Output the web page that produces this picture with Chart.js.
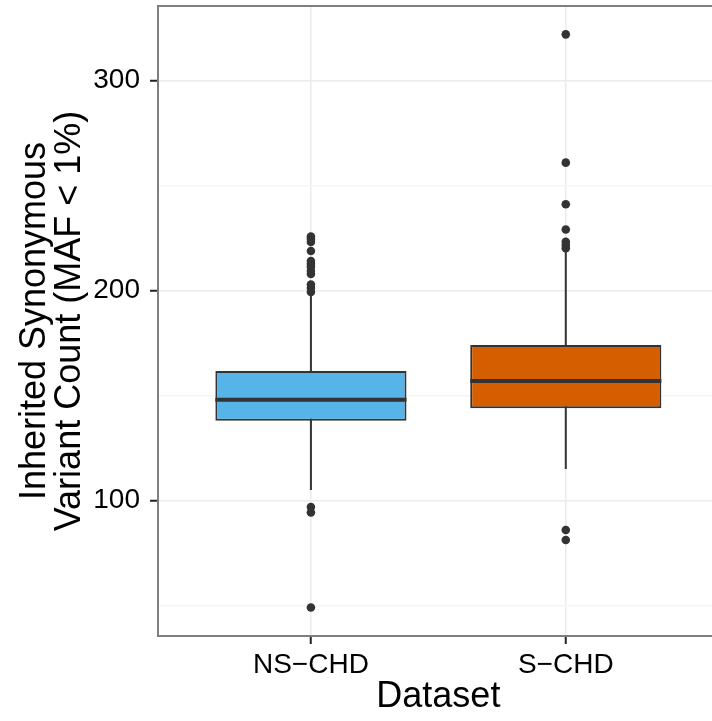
<!DOCTYPE html>
<html>
<head>
<meta charset="utf-8">
<script src="https://cdn.jsdelivr.net/npm/chart.js@4.4.1/dist/chart.umd.min.js"></script>
<style>
  html, body { margin: 0; padding: 0; background: #ffffff; overflow: hidden; }
  #wrap { width: 723px; height: 721px; }
</style>
</head>
<body>
<div id="wrap"><canvas id="c" width="723" height="721"></canvas></div>
<script>
// ---- data ----
const categories = ['NS\u2212CHD', 'S\u2212CHD'];
const lowerWhisker = [104.9, 114.9];
const q1 = [137.9, 143.8];
const median = [147.9, 156.8];
const q3 = [161.6, 174.0];
const upperWhisker = [197.3, 218.5];
const outliersNS = [49.0, 94.2, 96.8, 199.2, 201.1, 202.8, 207.8, 209.2, 211.2, 212.6, 214.0, 218.7, 223.0, 224.4, 225.6];
const outliersS = [81.1, 85.9, 220.1, 221.6, 223.1, 229.0, 241.0, 260.8, 321.9];
const yMajorTicks = [100, 200, 300];
const yGridValues = [50, 100, 150, 200, 250, 300];
const boxColors = ['#56B4E9', '#D55E00'];

const FONT = '"Liberation Sans", Arial, Helvetica, sans-serif';
const DARK = '#333333';

const outlierPoints = [];
outliersNS.forEach(v => outlierPoints.push({ x: 1, y: v }));
outliersS.forEach(v => outlierPoints.push({ x: 2, y: v }));

const whiskerDatasets = categories.map((c, i) => ({
  type: 'line',
  data: [{ x: i + 1, y: lowerWhisker[i] }, { x: i + 1, y: upperWhisker[i] }],
  borderColor: DARK,
  borderWidth: 2,
  pointRadius: 0,
  fill: false,
  order: 3
}));

const medianPlugin = {
  id: 'medianLines',
  afterDatasetsDraw(chart) {
    const meta = chart.getDatasetMeta(0);
    const ys = chart.scales.y;
    const ctx = chart.ctx;
    ctx.save();
    ctx.strokeStyle = DARK;
    ctx.lineWidth = 4;
    meta.data.forEach((bar, i) => {
      const y = ys.getPixelForValue(median[i]);
      ctx.beginPath();
      ctx.moveTo(bar.x - bar.width / 2, y);
      ctx.lineTo(bar.x + bar.width / 2, y);
      ctx.stroke();
    });
    ctx.restore();
  }
};

const borderPlugin = {
  id: 'panelBorder',
  afterDraw(chart) {
    const a = chart.chartArea;
    const ctx = chart.ctx;
    ctx.save();
    ctx.strokeStyle = '#7F7F7F';
    ctx.lineWidth = 2;
    ctx.strokeRect(a.left, a.top, a.right - a.left, a.bottom - a.top);
    ctx.restore();
  }
};

new Chart(document.getElementById('c'), {
  type: 'bar',
  data: {
    datasets: [
      {
        type: 'bar',
        data: categories.map((c, i) => ({ x: i + 1, y: [q1[i], q3[i]] })),
        backgroundColor: boxColors,
        borderColor: DARK,
        borderWidth: 2,
        borderSkipped: false,
        barPercentage: 0.75,
        categoryPercentage: 1.0,
        order: 2
      },
      ...whiskerDatasets,
      {
        type: 'scatter',
        data: outlierPoints,
        backgroundColor: DARK,
        borderColor: DARK,
        borderWidth: 0,
        pointRadius: 4.3,
        order: 1
      }
    ]
  },
  options: {
    responsive: false,
    animation: false,
    events: [],
    layout: { padding: { top: 6, left: 0, right: 0, bottom: 0 } },
    plugins: { legend: { display: false }, tooltip: { enabled: false } },
    scales: {
      x: {
        type: 'linear',
        offset: false,
        min: 0.4,
        max: 2.6,
        afterBuildTicks(scale) { scale.ticks = categories.map((c, i) => ({ value: i + 1 })); },
        afterFit(scale) { scale.height = 85; scale.paddingLeft = 0; scale.paddingRight = 0; },
        border: { display: false },
        grid: { offset: false, color: '#EBEBEB', lineWidth: 1.5, tickColor: '#222222', tickLength: 8, tickWidth: 2 },
        ticks: {
          autoSkip: false,
          maxRotation: 0,
          padding: 7,
          color: '#000000',
          font: { family: FONT, size: 28, lineHeight: 1.0 },
          callback: (v) => categories[Math.round(v) - 1] || ''
        },
        title: {
          display: true,
          text: 'Dataset',
          color: '#000000',
          font: { family: FONT, size: 36, lineHeight: 1.0 },
          padding: { top: 0, bottom: 5.5 }
        }
      },
      y: {
        type: 'linear',
        min: 35.4,
        max: 335.4,
        afterBuildTicks(scale) { scale.ticks = yGridValues.map(v => ({ value: v })); },
        afterFit(scale) { scale.width = 158; scale.paddingTop = 0; scale.paddingBottom = 0; },
        border: { display: false },
        grid: {
          color: (ctx) => yMajorTicks.includes(ctx.tick && ctx.tick.value) ? '#EBEBEB' : '#F5F5F5',
          tickColor: (ctx) => yMajorTicks.includes(ctx.tick && ctx.tick.value) ? '#222222' : 'rgba(0,0,0,0)',
          lineWidth: 1.5,
          tickLength: 8,
          tickWidth: 2
        },
        ticks: {
          autoSkip: false,
          padding: 10,
          color: '#000000',
          font: { family: FONT, size: 28, lineHeight: 1.0 },
          callback: (v) => yMajorTicks.includes(v) ? String(v) : ''
        },
        title: {
          display: true,
          text: ['Inherited Synonymous', 'Variant Count (MAF < 1%)'],
          color: '#000000',
          font: { family: FONT, size: 36, lineHeight: 0.97 },
          padding: { top: 18, bottom: 0 }
        }
      }
    }
  },
  plugins: [medianPlugin, borderPlugin]
});
</script>
</body>
</html>
